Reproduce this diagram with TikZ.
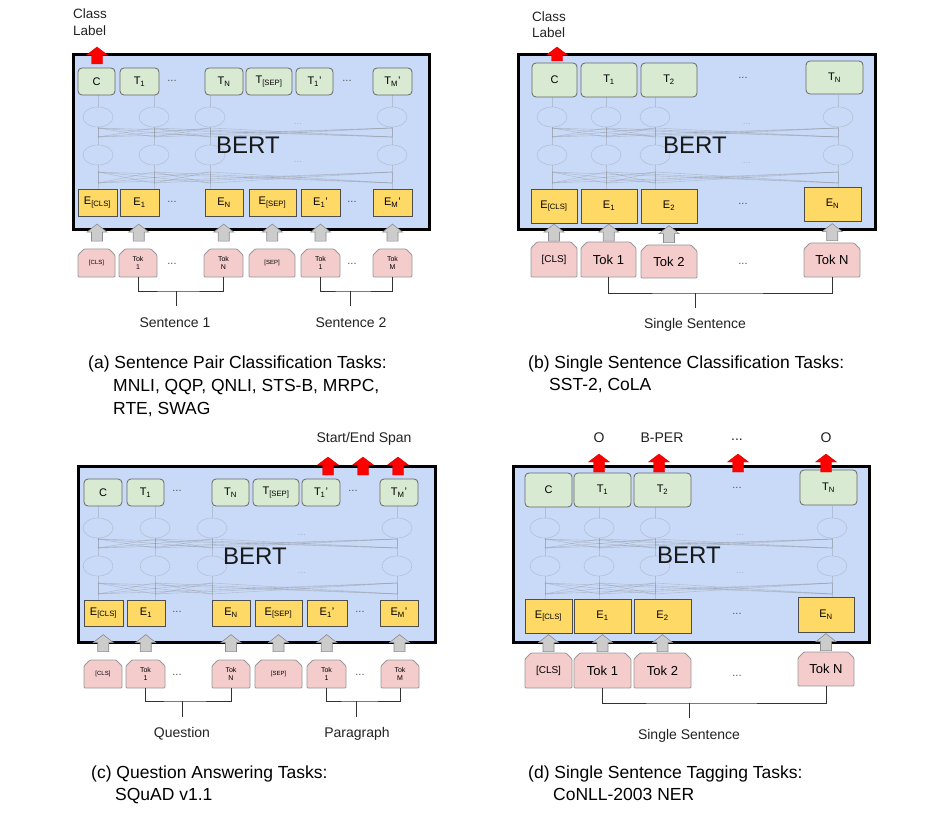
\documentclass[tikz,border=0pt]{standalone}
\usepackage{fontspec}
\setmainfont{Liberation Sans}
\usetikzlibrary{calc}
\definecolor{bertblue}{HTML}{C9DAF8}
\definecolor{tgreen}{HTML}{D9EAD3}
\definecolor{tedge}{HTML}{666666}
\definecolor{eyellow}{HTML}{FFD966}
\definecolor{eedge}{HTML}{4D4D4D}
\definecolor{tokpink}{HTML}{F4CCCC}
\definecolor{tokedge}{HTML}{999999}
\definecolor{garrfill}{HTML}{CCCCCC}
\definecolor{garredge}{HTML}{8C8C8C}
\definecolor{txt}{HTML}{222222}
\definecolor{dotc}{HTML}{555555}

\newcommand{\bx}[7]{\node[#1, minimum width={(#5-#3)*1pt}, minimum height={(#6-#4)*1pt}] (#2) at ({(#3+#5)/2},{(#4+#6)/2}) {#7};}
\newcommand{\tok}[7]{%
  \filldraw[tokshape] (#3,#6) -- (#3,#4+6) -- (#3+6,#4) -- (#5-6,#4) -- (#5,#4+6) -- (#5,#6) -- cycle;
  \node[#1, inner sep=0pt, align=center, minimum width={(#5-#3)*1pt}, minimum height={(#6-#4)*1pt}] (#2) at ({(#3+#5)/2},{(#4+#6)/2}) {#7};}
\newcommand{\garr}[2]{%
  \filldraw[garrow] let \p1=($(#1.south)!.5!(#2.north)$) in
    (\x1-5.5pt,\y1-8.5pt) -- (\x1-5.5pt,\y1+0.5pt) -- (\x1-10pt,\y1+0.5pt) -- (\x1,\y1+8.5pt)
    -- (\x1+10pt,\y1+0.5pt) -- (\x1+5.5pt,\y1+0.5pt) -- (\x1+5.5pt,\y1-8.5pt) -- cycle;}
\newcommand{\rarr}[3]{%
  \filldraw[rarrow] (#1-5.5,#3) -- (#1-5.5,#2+8) -- (#1-10.5,#2+8) -- (#1,#2) -- (#1+10.5,#2+8) -- (#1+5.5,#2+8) -- (#1+5.5,#3) -- cycle;}
\newcommand{\bertnet}[2]{%
  \foreach \xa in {#1}{
    \draw[netline] (\xa,#2) ellipse [x radius=15pt, y radius=10pt];
    \draw[netline] (\xa,#2+38) ellipse [x radius=15pt, y radius=10pt];
    \draw[netline] (\xa,#2-22) -- (\xa,#2-10);
    \draw[netline] (\xa,#2+10) -- (\xa,#2+28);
    \draw[netline] (\xa,#2+48) -- (\xa,#2+72);
    \foreach \xb in {#1}{
      \draw[netline] (\xa,#2+20) -- (\xb,#2+11);
      \draw[netline] (\xa,#2+66) -- (\xb,#2+55);
    }
  }}

\begin{document}
\begin{tikzpicture}[x=1pt,y=-1pt,
  bertbox/.style={draw=black, fill=bertblue, line width=3pt, inner sep=0pt},
  tbox/.style={draw=tedge, fill=tgreen, rounded corners=4pt, line width=0.8pt, inner sep=0pt, font=\fontsize{11}{12}\selectfont},
  ebox/.style={draw=eedge, fill=eyellow, line width=0.8pt, inner sep=0pt, font=\fontsize{11}{12}\selectfont},
  tokshape/.style={draw=tokedge, fill=tokpink, line width=0.8pt, rounded corners=1pt},
  toksmall/.style={font=\fontsize{7}{8.5}\selectfont},
  toktiny/.style={font=\fontsize{6}{7}\selectfont},
  tokbig/.style={font=\fontsize{13}{15}\selectfont},
  tokmid/.style={font=\fontsize{10}{12}\selectfont},
  garrow/.style={draw=garredge, fill=garrfill, line width=0.6pt},
  rarrow/.style={draw=red!85!black, fill=red, line width=0.4pt},
  netline/.style={draw=gray, line width=0.6pt, opacity=0.3},
  netdots/.style={text=gray, opacity=0.4, font=\fontsize{10}{12}\selectfont},
  dotstxt/.style={text=dotc, font=\fontsize{11}{12}\selectfont},
  berttxt/.style={text=black!90, font=\fontsize{24}{28}\selectfont},
  lbl/.style={text=txt, font=\fontsize{14}{16}\selectfont, inner sep=0pt},
  captxt/.style={text=black, font=\fontsize{17.5}{20}\selectfont, inner sep=0pt, anchor=base west},
  brk/.style={draw=black!80, line width=0.8pt}
]
\useasboundingbox (0,0) rectangle (940,813);
\fill[white] (0,0) rectangle (940,813);

%%%%%%%%%%%%%%%% (a)
\bx{bertbox}{a-box}{73}{55}{429}{230}{}
\bertnet{98,154,210,392}{117}
\node[netdots] (a-nd1) at (298,124) {...};
\node[netdots] (a-nd2) at (298,162) {...};
\node[berttxt] (a-bert) at (248,145) {BERT};
\bx{tbox}{a-c}{78}{68}{115}{95}{C}
\bx{tbox}{a-t1}{120}{68}{159}{95}{T\textsubscript{1}}
\node[dotstxt] (a-td1) at (172,81) {...};
\bx{tbox}{a-tn}{205}{68}{243}{95}{T\textsubscript{N}}
\bx{tbox}{a-tsep}{246}{68}{292}{95}{T\textsubscript{[SEP]}}
\bx{tbox}{a-t1p}{296}{68}{333}{95}{T\textsubscript{1}'}
\node[dotstxt] (a-td2) at (347,81) {...};
\bx{tbox}{a-tmp}{373}{68}{412}{95}{T\textsubscript{M}'}
\bx{ebox}{a-ecls}{78}{189}{117}{216}{E\textsubscript{[CLS]}}
\bx{ebox}{a-e1}{120}{189}{159}{216}{E\textsubscript{1}}
\node[dotstxt] (a-ed1) at (172,202) {...};
\bx{ebox}{a-en}{205}{189}{243}{216}{E\textsubscript{N}}
\bx{ebox}{a-esep}{249}{189}{296}{216}{E\textsubscript{[SEP]}}
\bx{ebox}{a-e1p}{301}{189}{340}{216}{E\textsubscript{1}'}
\node[dotstxt] (a-ed2) at (352,202) {...};
\bx{ebox}{a-emp}{373}{189}{412}{216}{E\textsubscript{M}'}
\tok{toktiny}{a-kcls}{78}{249}{115}{277}{[CLS]}
\tok{toksmall}{a-k1}{119}{249}{157}{277}{Tok\\1}
\node[dotstxt] (a-kd1) at (172,264) {...};
\tok{toksmall}{a-kn}{204}{249}{243}{277}{Tok\\N}
\tok{toktiny}{a-ksep}{249}{249}{295}{277}{[SEP]}
\tok{toksmall}{a-k1p}{301}{249}{340}{277}{Tok\\1}
\node[dotstxt] (a-kd2) at (352,264) {...};
\tok{toksmall}{a-km}{373}{249}{412}{277}{Tok\\M}
\garr{a-ecls}{a-kcls}
\garr{a-e1}{a-k1}
\garr{a-en}{a-kn}
\garr{a-esep}{a-ksep}
\garr{a-e1p}{a-k1p}
\garr{a-emp}{a-km}
\coordinate (a-b1) at (176,291);
\coordinate (a-b2) at (350,291);
\draw[brk] (a-k1.south) |- (a-b1) -| (a-kn.south);
\draw[brk] (a-b1) -- ++(0,15);
\draw[brk] (a-k1p.south) |- (a-b2) -| (a-km.south);
\draw[brk] (a-b2) -- ++(0,15);
\node[lbl, anchor=base] (a-s1) at (175,327) {Sentence 1};
\node[lbl, anchor=base] (a-s2) at (351,327) {Sentence 2};
\rarr{97}{47}{64}
\node[lbl, font=\fontsize{13.5}{16}\selectfont, anchor=base west] (a-cl1) at (73,19) {Class};
\node[lbl, font=\fontsize{13.5}{16}\selectfont, anchor=base west] (a-cl2) at (73,36) {Label};
\node[captxt] (a-cap1) at (88,368) {(a) Sentence Pair Classification Tasks:};
\node[captxt] (a-cap2) at (113,391) {MNLI, QQP, QNLI, STS-B, MRPC,};
\node[captxt] (a-cap3) at (113,414) {RTE, SWAG};

%%%%%%%%%%%%%%%% (b)
\bx{bertbox}{b-box}{518}{55}{875}{230}{}
\bertnet{552,606,655,838}{117}
\node[netdots] (b-nd1) at (747,124) {...};
\node[netdots] (b-nd2) at (747,163) {...};
\node[berttxt] (b-bert) at (695,145) {BERT};
\bx{tbox}{b-c}{532}{63}{577}{97}{C}
\bx{tbox}{b-t1}{581}{63}{637}{97}{T\textsubscript{1}}
\bx{tbox}{b-t2}{641}{63}{697}{97}{T\textsubscript{2}}
\node[dotstxt] (b-td) at (743,78) {...};
\bx{tbox}{b-tn}{806}{61}{863}{94}{T\textsubscript{N}}
\bx{ebox}{b-ecls}{531}{189}{577}{223}{E\textsubscript{[CLS]}}
\bx{ebox}{b-e1}{581}{189}{637}{223}{E\textsubscript{1}}
\bx{ebox}{b-e2}{641}{189}{697}{223}{E\textsubscript{2}}
\node[dotstxt] (b-ed) at (743,204) {...};
\bx{ebox}{b-en}{804}{187}{861}{221}{E\textsubscript{N}}
\tok{tokmid}{b-kcls}{531}{242}{577}{277}{[CLS]}
\tok{tokbig}{b-k1}{581}{242}{636}{277}{Tok 1}
\tok{tokbig}{b-k2}{641}{245}{697}{278}{Tok 2}
\node[dotstxt] (b-kd) at (743,264) {...};
\tok{tokbig}{b-kn}{804}{243}{860}{277}{Tok N}
\garr{b-ecls}{b-kcls}
\garr{b-e1}{b-k1}
\garr{b-e2}{b-k2}
\garr{b-en}{b-kn}
\coordinate (b-b1) at (695,293);
\draw[brk] (b-k1.south) |- (b-b1) -| (b-kn.south);
\draw[brk] (b-b1) -- ++(0,15);
\node[lbl, anchor=base] (b-s1) at (695,328) {Single Sentence};
\rarr{557}{47}{61}
\node[lbl, font=\fontsize{13.5}{16}\selectfont, anchor=base west] (b-cl1) at (532,22) {Class};
\node[lbl, font=\fontsize{13.5}{16}\selectfont, anchor=base west] (b-cl2) at (532,38) {Label};
\node[captxt] (b-cap1) at (528,368) {(b) Single Sentence Classification Tasks:};
\node[captxt] (b-cap2) at (549,390) {SST-2, CoLA};

%%%%%%%%%%%%%%%% (c)
\bx{bertbox}{c-box}{78}{466}{435}{642}{}
\bertnet{98,155,212,397}{528}
\node[netdots] (c-nd1) at (302,535) {...};
\node[netdots] (c-nd2) at (302,573) {...};
\node[berttxt] (c-bert) at (255,556) {BERT};
\bx{tbox}{c-c}{84}{479}{122}{506}{C}
\bx{tbox}{c-t1}{127}{479}{164}{506}{T\textsubscript{1}}
\node[dotstxt] (c-td1) at (177,491) {...};
\bx{tbox}{c-tn}{212}{479}{249}{506}{T\textsubscript{N}}
\bx{tbox}{c-tsep}{253}{479}{299}{506}{T\textsubscript{[SEP]}}
\bx{tbox}{c-t1p}{302}{479}{340}{506}{T\textsubscript{1}'}
\node[dotstxt] (c-td2) at (353,491) {...};
\bx{tbox}{c-tmp}{380}{479}{418}{506}{T\textsubscript{M}'}
\bx{ebox}{c-ecls}{84}{600}{123}{626}{E\textsubscript{[CLS]}}
\bx{ebox}{c-e1}{127}{600}{165}{626}{E\textsubscript{1}}
\node[dotstxt] (c-ed1) at (177,612) {...};
\bx{ebox}{c-en}{212}{600}{250}{626}{E\textsubscript{N}}
\bx{ebox}{c-esep}{255}{600}{302}{626}{E\textsubscript{[SEP]}}
\bx{ebox}{c-e1p}{307}{600}{347}{626}{E\textsubscript{1}'}
\node[dotstxt] (c-ed2) at (360,612) {...};
\bx{ebox}{c-emp}{380}{600}{418}{626}{E\textsubscript{M}'}
\tok{toktiny}{c-kcls}{84}{660}{122}{688}{[CLS]}
\tok{toksmall}{c-k1}{126}{660}{165}{688}{Tok\\1}
\node[dotstxt] (c-kd1) at (177,675) {...};
\tok{toksmall}{c-kn}{212}{660}{250}{688}{Tok\\N}
\tok{toktiny}{c-ksep}{255}{660}{302}{688}{[SEP]}
\tok{toksmall}{c-k1p}{307}{660}{346}{688}{Tok\\1}
\node[dotstxt] (c-kd2) at (360,675) {...};
\tok{toksmall}{c-km}{381}{660}{419}{688}{Tok\\M}
\garr{c-ecls}{c-kcls}
\garr{c-e1}{c-k1}
\garr{c-en}{c-kn}
\garr{c-esep}{c-ksep}
\garr{c-e1p}{c-k1p}
\garr{c-emp}{c-km}
\coordinate (c-b1) at (182,701);
\coordinate (c-b2) at (356,701);
\draw[brk] (c-k1.south) |- (c-b1) -| (c-kn.south);
\draw[brk] (c-b1) -- ++(0,16);
\draw[brk] (c-k1p.south) |- (c-b2) -| (c-km.south);
\draw[brk] (c-b2) -- ++(0,16);
\node[lbl, anchor=base] (c-s1) at (182,737) {Question};
\node[lbl, anchor=base] (c-s2) at (357,737) {Paragraph};
\rarr{328}{457}{475}
\rarr{363}{457}{475}
\rarr{398}{457}{475}
\node[lbl, anchor=base] (c-span) at (364,442) {Start/End Span};
\node[captxt] (c-cap1) at (91,778) {(c) Question Answering Tasks:};
\node[captxt] (c-cap2) at (115,800) {SQuAD v1.1};

%%%%%%%%%%%%%%%% (d)
\bx{bertbox}{d-box}{513}{466}{869}{642}{}
\bertnet{545,599,655,832}{528}
\node[netdots] (d-nd1) at (740,535) {...};
\node[netdots] (d-nd2) at (740,573) {...};
\node[berttxt] (d-bert) at (689,555) {BERT};
\bx{tbox}{d-c}{525}{473}{572}{507}{C}
\bx{tbox}{d-t1}{574}{473}{631}{507}{T\textsubscript{1}}
\bx{tbox}{d-t2}{634}{473}{691}{507}{T\textsubscript{2}}
\node[dotstxt] (d-td) at (737,488) {...};
\bx{tbox}{d-tn}{800}{470}{857}{505}{T\textsubscript{N}}
\bx{ebox}{d-ecls}{525}{599}{572}{633}{E\textsubscript{[CLS]}}
\bx{ebox}{d-e1}{574}{599}{631}{633}{E\textsubscript{1}}
\bx{ebox}{d-e2}{634}{599}{691}{633}{E\textsubscript{2}}
\node[dotstxt] (d-ed) at (737,614) {...};
\bx{ebox}{d-en}{798}{597}{854}{632}{E\textsubscript{N}}
\tok{tokmid}{d-kcls}{525}{653}{572}{688}{[CLS]}
\tok{tokbig}{d-k1}{574}{653}{631}{688}{Tok 1}
\tok{tokbig}{d-k2}{634}{653}{691}{688}{Tok 2}
\node[dotstxt] (d-kd) at (737,676) {...};
\tok{tokbig}{d-kn}{798}{652}{854}{686}{Tok N}
\garr{d-ecls}{d-kcls}
\garr{d-e1}{d-k1}
\garr{d-e2}{d-k2}
\garr{d-en}{d-kn}
\coordinate (d-b1) at (689,703);
\draw[brk] (d-k1.south) |- (d-b1) -| (d-kn.south);
\draw[brk] (d-b1) -- ++(0,15);
\node[lbl, anchor=base] (d-s1) at (689,739) {Single Sentence};
\rarr{599}{454}{472}
\rarr{659}{454}{472}
\rarr{738}{454}{472}
\rarr{826}{454}{472}
\node[lbl, anchor=base] (d-o1) at (599,442) {O};
\node[lbl, anchor=base] (d-bper) at (662,442) {B-PER};
\node[lbl, anchor=base] (d-odots) at (737,440) {...};
\node[lbl, anchor=base] (d-o2) at (826,442) {O};
\node[captxt] (d-cap1) at (528,778) {(d) Single Sentence Tagging Tasks:};
\node[captxt] (d-cap2) at (553,800) {CoNLL-2003 NER};
\end{tikzpicture}
\end{document}
